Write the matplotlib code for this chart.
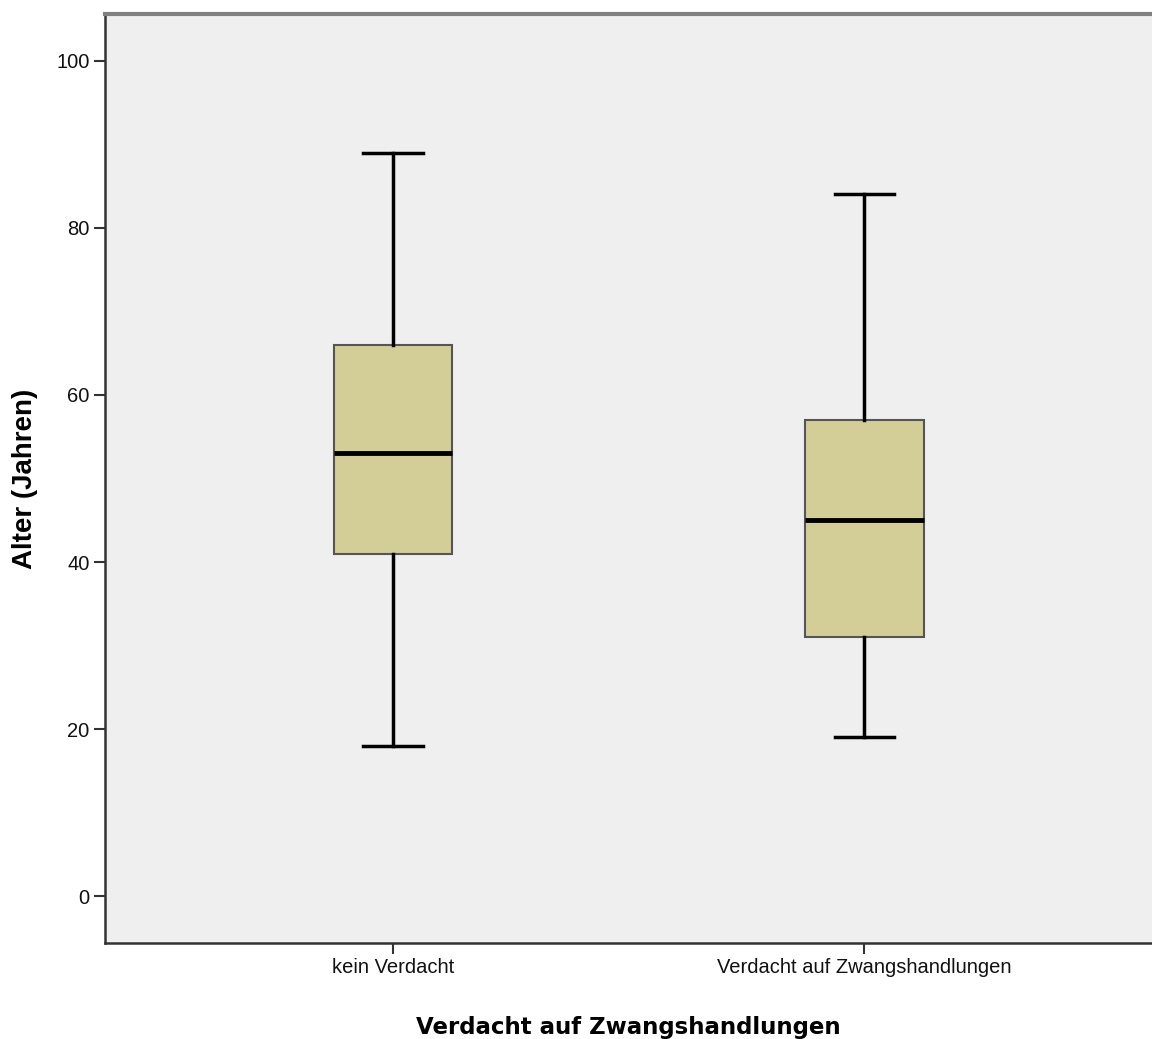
import numpy as np
import matplotlib
matplotlib.use("Agg")
import matplotlib.pyplot as plt

# group labels and box statistics (Alter in Jahren)
groups = ["kein Verdacht", "Verdacht auf Zwangshandlungen"]
whisker_low = [18, 19]
q1 = [41, 31]
median = [53, 45]
q3 = [66, 57]
whisker_high = [89, 84]

stats = []
for i, g in enumerate(groups):
    stats.append({"label": g, "whislo": whisker_low[i], "q1": q1[i], "med": median[i],
                  "q3": q3[i], "whishi": whisker_high[i], "fliers": []})

fig = plt.figure(figsize=(11.52, 10.39), dpi=100)
ax = fig.add_axes([0.0911, 0.0924, 0.9089, 0.8941])
ax.set_facecolor("#efefef")

ax.bxp(stats, positions=np.arange(len(groups)), widths=0.252, patch_artist=True,
       showfliers=False,
       boxprops=dict(facecolor="#d3ce98", edgecolor="#555555", linewidth=1.5),
       medianprops=dict(color="black", linewidth=3.5),
       whiskerprops=dict(color="black", linewidth=2.5),
       capprops=dict(color="black", linewidth=2.5))

ax.set_xlim(-0.611, 1.61)
ax.set_ylim(-5.6, 105.6)
ax.set_yticks([0, 20, 40, 60, 80, 100])
ax.set_xticks(np.arange(len(groups)))
ax.set_xticklabels(groups)

for lab in ax.get_xticklabels() + ax.get_yticklabels():
    lab.set_fontfamily("Liberation Sans")
    lab.set_fontsize(14.5)
    lab.set_color("#111111")

ax.tick_params(axis="both", length=8, width=1.5, color="#333333", pad=3)

ax.spines["right"].set_visible(False)
ax.spines["top"].set_color("#808080")
ax.spines["top"].set_linewidth(3)
ax.spines["left"].set_color("#333333")
ax.spines["left"].set_linewidth(1.8)
ax.spines["bottom"].set_color("#333333")
ax.spines["bottom"].set_linewidth(1.8)

ax.set_ylabel("Alter (Jahren)", fontfamily="Liberation Sans", fontweight="bold",
              fontsize=20, labelpad=13)
ax.set_xlabel("Verdacht auf Zwangshandlungen", fontfamily="DejaVu Sans", fontweight="bold",
              fontsize=16.5, labelpad=28)

fig.savefig("out.png", dpi=100)
